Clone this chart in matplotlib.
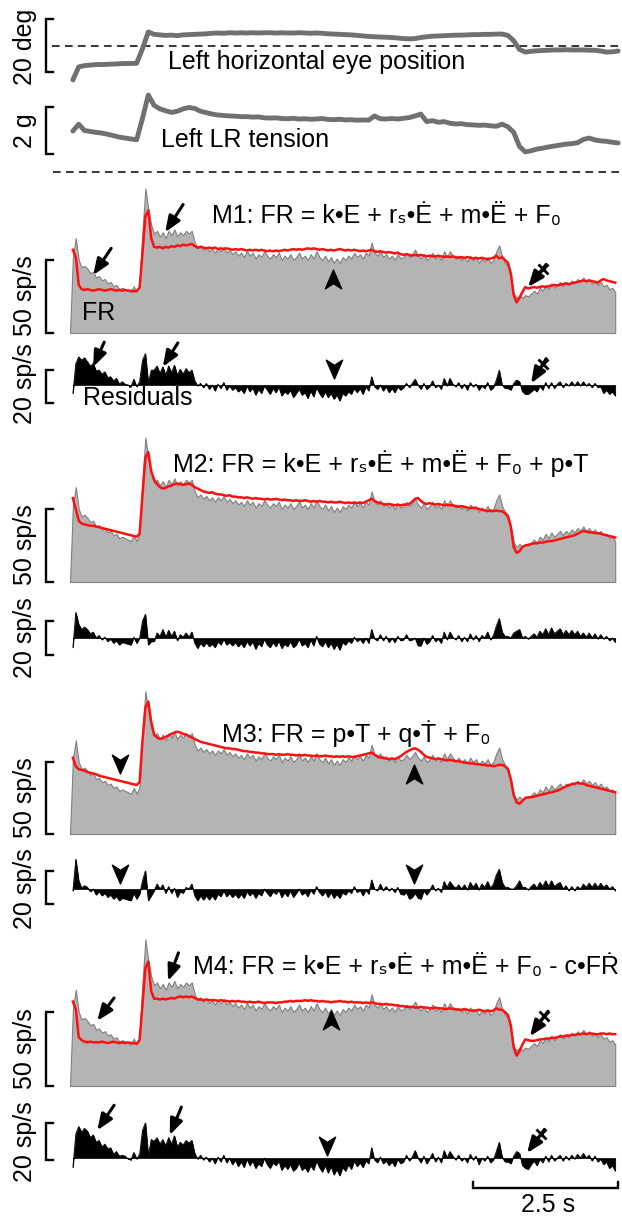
import numpy as np
import matplotlib
matplotlib.use("Agg")
import matplotlib.pyplot as plt
from matplotlib.path import Path

plt.rcParams["font.family"] = ["Liberation Sans", "DejaVu Sans"]

# ---------------- data ---------------- #

# firing rate (sp/s), sampled every 50 ms
dt_fr = 0.05
fr = [
    0, 52, 65, 50, 45, 46, 44, 41, 42, 38,
    39, 36, 37, 34, 35, 32, 33, 30, 31, 30,
    29, 28, 32, 28, 33, 70, 99, 85, 74, 68,
    70, 66, 69, 65, 70, 67, 71, 66, 69, 67,
    70, 68, 70, 62, 58, 60, 57, 59, 56, 58,
    55, 58, 56, 59, 55, 57, 54, 56, 53, 55,
    52, 56, 53, 55, 51, 54, 52, 56, 53, 51,
    54, 52, 55, 50, 53, 51, 54, 50, 52, 55,
    51, 53, 50, 54, 51, 56, 52, 50, 53, 49,
    52, 48, 51, 48, 52, 50, 53, 51, 55, 52,
    54, 51, 55, 53, 62, 55, 53, 56, 52, 54,
    51, 53, 50, 54, 51, 52, 55, 52, 54, 57,
    53, 51, 54, 50, 52, 55, 51, 53, 50, 56,
    52, 56, 53, 51, 53, 50, 52, 49, 53, 50,
    52, 48, 51, 49, 52, 48, 50, 56, 60, 52,
    48, 46, 38, 27, 24, 26, 24, 26, 25, 27,
    29, 27, 31, 29, 33, 30, 34, 31, 33, 35,
    32, 35, 33, 36, 34, 37, 35, 38, 35, 37,
    34, 36, 33, 35, 32, 33, 30, 31, 28,
]

# model fits (sp/s), same sampling
fit_m1 = [
    np.nan, 57, 52, 33, 30, 29.5, 30, 29.5, 29, 29.5,
    30, 29.5, 29, 29.5, 30, 29.5, 29, 29.5, 29, 29.5,
    29, 29, 28.5, 29, 31, 55, 80, 84, 65, 59,
    58.5, 59, 58, 59, 58.5, 59.5, 59, 60, 59.5, 60.5,
    60, 60.5, 61, 59.5, 58.5, 59, 58.5, 58, 58.5, 58,
    58.5, 57.5, 58, 57.5, 58, 57.5, 57, 57.5, 57, 57.5,
    57, 56.5, 57, 56.5, 57, 56.5, 57, 56.5, 56, 56.5,
    56, 56.5, 56, 56.5, 57, 56.5, 57, 57.5, 57, 57.5,
    57, 57.5, 58, 57.5, 58, 57.5, 57, 57.5, 57, 56.5,
    57, 56.5, 57, 57.5, 57, 56.5, 57, 56.5, 57, 56.5,
    56, 56.5, 56, 56.5, 57, 56, 55.5, 56, 55.5, 55,
    55.5, 55, 54.5, 55, 54, 53.5, 54, 53.5, 53, 53.5,
    53, 53.5, 53, 52.5, 53, 52.5, 52.5, 53, 52.5, 52,
    52.5, 52, 52.5, 52, 51.5, 52, 51.5, 52, 51.5, 51,
    51.5, 51, 51.5, 51, 50.5, 51, 51.5, 53, 51, 52,
    50, 48, 41, 26, 21, 24, 28, 31.5, 30.5, 31,
    31.5, 31, 31.5, 32, 31.5, 32, 32.5, 33, 32.5, 33,
    33.5, 34, 33.5, 34, 34.5, 35, 35.5, 36, 35.5, 36,
    35.5, 35, 34.5, 36, 37, 36, 35.5, 35, 34.5,
]

fit_m2 = [
    np.nan, 57.5, 50, 42, 40, 39.5, 39, 38.5, 38.5, 38,
    37.5, 37, 36.5, 36, 35.5, 35, 34.5, 34, 33.5, 33,
    32.5, 32, 31.5, 31, 33, 60, 85, 89, 76, 70,
    67, 65, 64, 64.5, 65.5, 66, 67, 67.5, 67, 66.5,
    67, 67.5, 66.5, 65, 64, 63, 62, 61.5, 61, 61.5,
    60.5, 60, 60, 59.5, 59, 59.5, 58.5, 58.5, 58, 58,
    57.5, 58, 57.5, 57, 57.5, 57, 57, 56.5, 57, 56.5,
    56.5, 57, 56.5, 56, 56.5, 56, 56, 55.5, 56, 55.5,
    55.5, 56, 55.5, 55, 55.5, 55, 55.5, 55, 55, 54.5,
    55, 54.5, 54.5, 55, 54.5, 54, 54.5, 54, 54.5, 54,
    54.5, 54, 55, 56, 57, 55.5, 54.5, 54, 53.5, 53,
    53.5, 53, 52.5, 53, 52.5, 53, 53, 53.5, 55, 57,
    57.5, 55.5, 54, 53.5, 54, 53.5, 53, 53.5, 53, 52.5,
    53, 52.5, 52.5, 52, 51.5, 52, 51.5, 51, 50.5, 51,
    50.5, 50, 49.5, 49, 48.5, 49, 48.5, 49, 48.5, 48.5,
    47, 45, 38, 24, 20, 21, 24, 25, 25.5, 26,
    26.5, 26.5, 27, 27, 27.5, 28, 28, 28.5, 29, 29.5,
    30, 30.5, 31, 31.5, 32, 33, 34, 35, 34.5, 34,
    34, 33.5, 33.5, 33, 32.5, 32, 31.5, 31, 30.5,
]

fit_m3 = [
    np.nan, 53, 47, 45, 44.5, 44, 43, 42.5, 42, 41.5,
    40.5, 40, 39.5, 39, 38.5, 38, 37.5, 37, 36.5, 36,
    35.5, 35, 34.5, 34, 36, 65, 88, 92, 78, 69,
    67, 66, 66.5, 67.5, 68.5, 69.5, 70.5, 71, 70.5, 69.5,
    69, 68, 67, 66, 65, 64, 63.5, 63, 62.5, 62,
    61.5, 61, 60.5, 60, 59.5, 59.5, 59, 59, 58.5, 58,
    57.5, 57.5, 57, 57, 56.5, 56.5, 56, 56, 55.5, 55.5,
    55.5, 55, 55.5, 55, 55, 55.5, 55, 55, 54.5, 55,
    54.5, 55, 54.5, 54.5, 54, 54.5, 54, 54, 54.5, 54,
    54, 53.5, 54, 53.5, 54, 53.5, 54, 53.5, 53.5, 54,
    54.5, 55, 55.5, 56, 56.5, 55, 54, 53, 53, 52.5,
    52, 52.5, 52, 53, 54, 55.5, 57, 58, 59, 59.5,
    58.5, 57, 55, 53.5, 53, 52.5, 52, 52.5, 52, 51.5,
    51, 51.5, 51, 50.5, 50.5, 50, 49.5, 49.5, 49, 49,
    48.5, 48.5, 48, 48, 47.5, 47.5, 47, 47.5, 48, 48,
    47, 45, 38, 27, 22, 21, 23, 25, 25.5, 25.5,
    26, 26.5, 27, 27.5, 28, 28.5, 29, 29.5, 30, 31,
    32, 33, 34, 34.5, 35, 35.5, 35, 35, 34, 33.5,
    33, 32.5, 32, 31.5, 31, 30.5, 30, 29.5, 29,
]

fit_m4 = [
    np.nan, 57, 52, 33, 31, 30, 29.5, 30, 29.5, 29.5,
    29.5, 30, 29.5, 29, 29.5, 30, 29.5, 29, 29.5, 29,
    29.5, 29, 29, 28.5, 31, 55, 80, 84, 64, 59,
    59, 58.5, 59, 58.5, 59, 59.5, 59, 60, 60.5, 60,
    60.5, 60, 60.5, 59.5, 58.5, 58.5, 58, 58.5, 58, 58,
    58, 57.5, 58, 57.5, 57.5, 57, 57.5, 57, 57.5, 57,
    57, 56.5, 57, 56.5, 56.5, 57, 56.5, 56, 56.5, 56.5,
    56.5, 56, 56.5, 56.5, 57, 57, 57.5, 57, 57.5, 57.5,
    57.5, 58, 57.5, 58, 57.5, 57.5, 57, 57.5, 57, 57,
    56.5, 57, 57, 57.5, 57, 57, 56.5, 57, 56.5, 56.5,
    56.5, 56, 56.5, 56, 56.5, 56, 55.5, 55.5, 55, 55.5,
    55, 55, 54.5, 54.5, 54, 54, 53.5, 53.5, 53.5, 53,
    53, 53.5, 53, 53, 52.5, 52.5, 53, 52.5, 52.5, 52,
    52, 52.5, 52, 52, 51.5, 51.5, 52, 51.5, 51, 51,
    51, 51.5, 51, 50.5, 51, 50.5, 51, 52.5, 51.5, 51.5,
    50, 48, 41, 26, 20.5, 23.5, 28, 31.5, 31, 30.5,
    30.5, 31, 31.5, 31.5, 32, 32, 32.5, 32.5, 33, 33.5,
    33.5, 34, 34, 34.5, 34.5, 35, 35, 35.5, 35, 35.5,
    35.5, 35, 35, 35.5, 35.5, 35, 35.5, 35, 35,
]

# eye position (deg) and LR tension (g), sampled every 100 ms
dt_slow = 0.1
t0_slow = 0.05
eye_deg = [
    -12.8, -7.9, -7.4, -7.2, -7.0, -7.0, -6.9, -6.8, -6.7, -6.6,
    -6.6, -6.5, -1.0, 5.3, 4.4, 4.2, 4.0, 4.1, 3.9, 4.2,
    4.3, 4.4, 4.5, 4.6, 4.8, 4.9, 4.8, 5.0, 4.9, 5.0,
    4.9, 5.0, 4.9, 5.0, 5.0, 4.9, 5.0, 4.9, 4.9, 5.0,
    4.9, 4.8, 4.9, 4.8, 4.6, 4.5, 4.4, 4.3, 4.2, 4.0,
    3.8, 3.6, 3.5, 3.4, 3.3, 3.2, 3.0, 2.8, 2.7, 2.8,
    3.2, 3.5, 3.7, 3.8, 3.9, 4.0, 4.1, 4.1, 4.2, 4.3,
    4.3, 4.4, 4.4, 4.5, 4.5, 4.0, 2.0, -1.3, -2.3, -2.0,
    -1.8, -1.7, -1.6, -1.5, -1.5, -1.4, -1.5, -1.5, -1.5, -1.6,
    -1.6, -1.9, -2.3, -2.2, -1.9,
]
lr_tension = [
    1.66, 1.95, 1.68, 1.64, 1.60, 1.57, 1.52, 1.46, 1.40, 1.36,
    1.32, 1.29, 2.20, 3.19, 2.75, 2.60, 2.52, 2.45, 2.50, 2.60,
    2.66, 2.62, 2.50, 2.44, 2.38, 2.34, 2.32, 2.30, 2.29, 2.27,
    2.27, 2.25, 2.26, 2.22, 2.21, 2.22, 2.19, 2.18, 2.20, 2.17,
    2.18, 2.16, 2.17, 2.19, 2.15, 2.14, 2.16, 2.13, 2.14, 2.12,
    2.13, 2.12, 2.30, 2.18, 2.17, 2.19, 2.17, 2.20, 2.23, 2.30,
    2.38, 2.06, 2.10, 2.03, 2.06, 1.99, 1.96, 1.97, 1.93, 1.92,
    1.90, 1.91, 1.88, 1.86, 1.95, 1.84, 1.60, 1.00, 0.77, 0.82,
    0.89, 0.93, 0.98, 1.02, 1.06, 1.10, 1.12, 1.16, 1.30, 1.36,
    1.28, 1.24, 1.22, 1.18, 1.15,
]

titles = [
    "M1: FR = k\u2022E + r\u209b\u2022\u0116 + m\u2022\u00cb + F\u2080",
    "M2: FR = k\u2022E + r\u209b\u2022\u0116 + m\u2022\u00cb + F\u2080 + p\u2022T",
    "M3: FR = p\u2022T + q\u2022\u1e6a + F\u2080",
    "M4: FR = k\u2022E + r\u209b\u2022\u0116 + m\u2022\u00cb + F\u2080 - c\u2022F\u1e58",
]
fits = [fit_m1, fit_m2, fit_m3, fit_m4]

# annotation anchors (time s, value): arrows are (tail_t, tail_v, head_t, head_v)
arrows_fr = [
    [(0.71, 58, 0.40, 39.7), (1.95, 88, 1.64, 69)],
    [],
    [],
    [(0.76, 59.5, 0.47, 44), (1.87, 90, 1.69, 71)],
]
arrows_res = [
    [(0.59, 26, 0.40, 11), (1.86, 25.5, 1.60, 11)],
    [],
    [],
    [(0.76, 28.5, 0.47, 15), (1.92, 27.5, 1.72, 12.4)],
]
heads_up_fr = [[(4.53, 36)], [], [(5.93, 41)], [(4.50, 44)]]
heads_down_fr = [[], [], [(0.86, 49)], []]
heads_down_res = [[(4.55, 10)], [], [(0.86, 9.7), (5.93, 10)], [(4.43, 7)]]
daggers_fr = [(8.21, 47, 7.90, 31.5), None, None, (8.24, 50.5, 7.93, 33.6)]
daggers_res = [(8.21, 16, 7.95, 1), None, None, (8.18, 15.5, 7.88, 2.7)]

# ---------------- layout (pixels of the 622x1216 canvas) ---------------- #
W, H = 622, 1216
X0_PX, PX_PER_S = 70, 58
# (top, bottom, zero row, px per unit) for each row of traces
fr_rows = [(180, 345, 333, 1.46), (425, 595, 582, 1.46),
           (680, 845, 834, 1.44), (935, 1095, 1086, 1.48)]
res_rows = [(340, 425, 385, 1.65), (595, 680, 638, 1.70),
            (845, 935, 889, 1.65), (1095, 1180, 1158, 1.85)]
res_brackets = [(-10.9, 9.1), (-10, 10), (-9.1, 10.9), (-1.1, 18.9)]
res_label_v = [1, 0, 0, 9]
title_pos = [(5.45, 80), (5.36, 81.5), (4.93, 70), (5.79, 80.4)]

GREY_LINE = "#707070"
FILL = "#b4b4b4"
FILL_EDGE = "#808080"
RED = "#ff1010"
FS = 18

fig = plt.figure(figsize=(W / 100, H / 100), dpi=100)


def panel(top, bottom, zero_px, ppu):
    ax = fig.add_axes([0, 1 - bottom / H, 1, (bottom - top) / H])
    ax.set_xlim(-X0_PX / PX_PER_S, (W - X0_PX) / PX_PER_S)
    ax.set_ylim((zero_px - bottom) / ppu, (zero_px - top) / ppu)
    ax.axis("off")
    return ax


BX = (46 - X0_PX) / PX_PER_S
BTICK = 7 / PX_PER_S
LX = (25 - X0_PX) / PX_PER_S
X_LINE0 = (53 - X0_PX) / PX_PER_S
X_LINE1 = (620 - X0_PX) / PX_PER_S


def bracket(ax, lo, hi, label, label_v):
    ax.plot([BX + BTICK, BX, BX, BX + BTICK], [lo, lo, hi, hi],
            color="k", lw=1.7, solid_joinstyle="miter", clip_on=False)
    ax.text(LX, label_v, label, rotation=90, ha="center", va="center",
            fontsize=FS)


chevron_up = Path([(0, 1), (0.78, -0.8), (0, -0.3), (-0.78, -0.8), (0, 1)],
                  [Path.MOVETO, Path.LINETO, Path.LINETO, Path.LINETO,
                   Path.CLOSEPOLY])
chevron_down = Path([(0, -1), (0.78, 0.8), (0, 0.3), (-0.78, 0.8), (0, -1)],
                    [Path.MOVETO, Path.LINETO, Path.LINETO, Path.LINETO,
                     Path.CLOSEPOLY])


def arrow(ax, tail_t, tail_v, head_t, head_v):
    ax.annotate("", xy=(head_t, head_v), xytext=(tail_t, tail_v),
                arrowprops=dict(arrowstyle="-|>,head_length=0.6,head_width=0.24",
                                color="k", lw=2.2, mutation_scale=16,
                                shrinkA=0, shrinkB=0))


def dagger(ax, spec):
    tail_t, tail_v, head_t, head_v = spec
    arrow(ax, tail_t, tail_v, head_t, head_v)
    ct = head_t + 0.8 * (tail_t - head_t)
    cv = head_v + 0.8 * (tail_v - head_v)
    ax.plot(ct, cv, marker="x", ms=7, mew=2, color="k")


# ---------------- eye position ---------------- #
t_slow = t0_slow + dt_slow * np.arange(len(eye_deg))

ax_eye = panel(0, 90, 46, 2.65)
ax_eye.plot([X_LINE0 - 0.02, X_LINE1], [0, 0], color="k", lw=1.1,
            ls=(0, (5, 3.5)))
ax_eye.plot(t_slow, eye_deg, color=GREY_LINE, lw=3.5,
            solid_capstyle="round", solid_joinstyle="round")
bracket(ax_eye, -9.8, 10.2, "20 deg", -0.2)
ax_eye.text(4.26, -6.0, "Left horizontal eye position", ha="center",
            va="center", fontsize=FS)

# ---------------- LR tension ---------------- #
ax_lr = panel(88, 180, 170, 23.5)
ax_lr.plot(t_slow, lr_tension, color=GREY_LINE, lw=3.5,
           solid_capstyle="round", solid_joinstyle="round")
ax_lr.plot([X_LINE0, X_LINE1], [-0.085, -0.085], color="k", lw=1.1,
           ls=(0, (5, 3.5)))
bracket(ax_lr, 0.68, 2.68, "2 g", 1.66)
ax_lr.text(3.02, 1.28, "Left LR tension", ha="center", va="center",
           fontsize=FS)

# ---------------- model panels ---------------- #
t = dt_fr * np.arange(len(fr))
fr_arr = np.array(fr, dtype=float)

for k in range(4):
    fit = np.array(fits[k], dtype=float)
    resid = fr_arr - fit

    ax = panel(*fr_rows[k])
    ax.fill_between(t, 0, fr_arr, facecolor=FILL, edgecolor=FILL_EDGE, lw=0.8)
    ax.plot(t, fit, color=RED, lw=1.8)
    bracket(ax, 0, 50, "50 sp/s", 25.5)
    ax.text(*title_pos[k], titles[k], ha="center", va="center", fontsize=FS)
    if k == 0:
        ax.text(0.50, 13.7, "FR", ha="center", va="center", fontsize=FS)
    for a in arrows_fr[k]:
        arrow(ax, *a)
    for p in heads_up_fr[k]:
        ax.plot(*p, marker=chevron_up, ms=15, color="k", ls="none")
    for p in heads_down_fr[k]:
        ax.plot(*p, marker=chevron_down, ms=15, color="k", ls="none")
    if daggers_fr[k]:
        dagger(ax, daggers_fr[k])

    axr = panel(*res_rows[k])
    axr.fill_between(t, 0, resid, facecolor="k", edgecolor="k", lw=0.5)
    axr.plot(t, resid, color="k", lw=0.6)
    lo, hi = res_brackets[k]
    bracket(axr, lo, hi, "20 sp/s", res_label_v[k])
    if k == 0:
        axr.text(1.17, -7.9, "Residuals", ha="center", va="center",
                 fontsize=FS)
    for a in arrows_res[k]:
        arrow(axr, *a)
    for p in heads_down_res[k]:
        axr.plot(*p, marker=chevron_down, ms=15, color="k", ls="none")
    if daggers_res[k]:
        dagger(axr, daggers_res[k])

# ---------------- time scale bar ---------------- #
SCALE_S = 2.5
bar_end = 9.45
ax_time = fig.add_axes([0, 0, 1, 41 / H])
ax_time.set_xlim(-X0_PX / PX_PER_S, (W - X0_PX) / PX_PER_S)
ax_time.set_ylim(0, 1)
ax_time.axis("off")
ax_time.plot([bar_end - SCALE_S, bar_end - SCALE_S, bar_end, bar_end],
             [0.84, 0.68, 0.68, 0.84], color="k", lw=1.7,
             solid_joinstyle="miter")
ax_time.text(bar_end - SCALE_S / 2 + 0.05, 0.27, "2.5 s", ha="center",
             va="center", fontsize=FS)

fig.savefig("out.png", dpi=100)
